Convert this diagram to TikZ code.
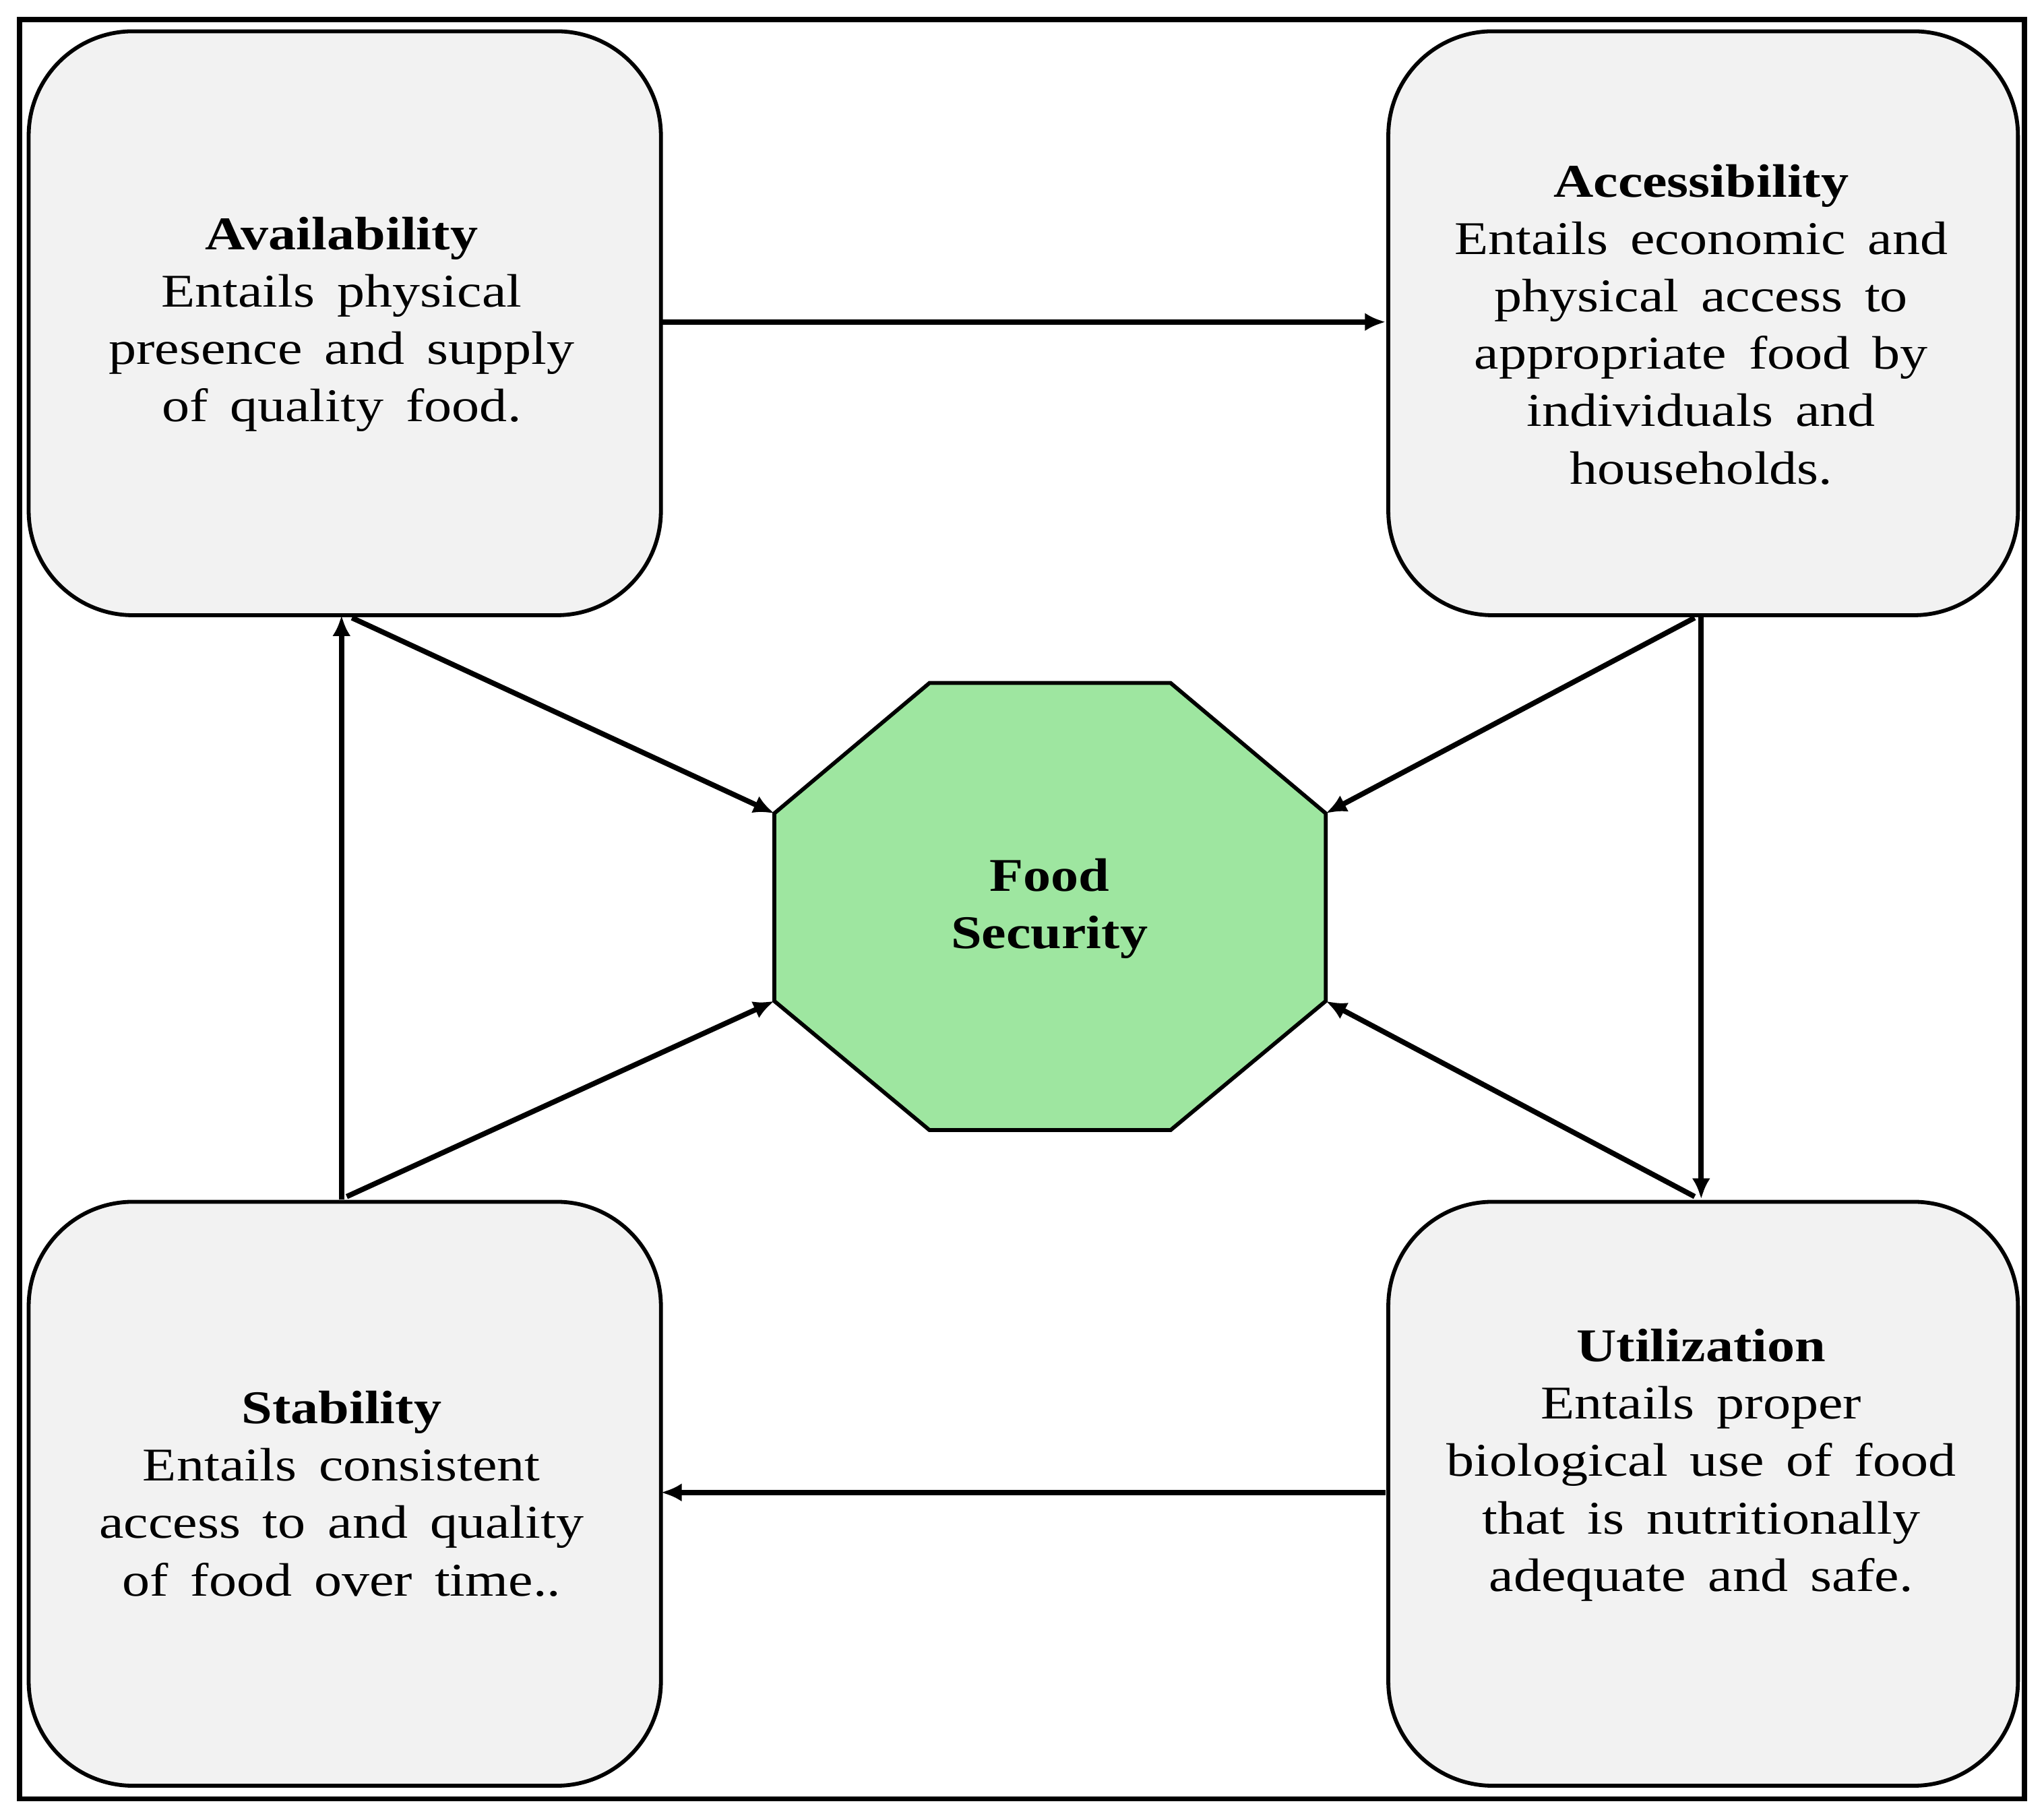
\documentclass[tikz,border=0pt]{standalone}
\usepackage{fontspec}
\setmainfont{Liberation Serif}[FakeStretch=1.18,WordSpace=1.6]
\usetikzlibrary{arrows.meta}
\definecolor{boxfill}{HTML}{F2F2F2}
\definecolor{octfill}{HTML}{9EE6A0}
\begin{document}
\begin{tikzpicture}[x=0.5pt,y=-0.5pt,
  card/.style={draw,line width=1.5pt,fill=boxfill,rounded corners=40pt},
  txt/.style={align=center,font=\fontsize{18}{22}\selectfont,inner sep=0pt},
  arr/.style={line width=2pt,-{Latex[length=8pt,width=7pt]}}]
\useasboundingbox (0,0) rectangle (1568,1390);
\draw[line width=2pt] (15,15) rectangle (1553,1380);
\draw[card] (22,24) rectangle (507,472);
\draw[card] (1065,24) rectangle (1548,472);
\draw[card] (22,922) rectangle (507,1370);
\draw[card] (1065,922) rectangle (1548,1370);
\draw[line width=1.5pt,fill=octfill] (713,524) -- (898,524) -- (1017,624) -- (1017,768) -- (898,867) -- (713,867) -- (594,768) -- (594,624) -- cycle;
\node[txt] (av) at (262,249) {\textbf{Availability}\\Entails physical\\presence and supply\\of quality food.};
\node[txt] (ac) at (1305,249) {\textbf{Accessibility}\\Entails economic and\\physical access to\\appropriate food by\\individuals and\\households.};
\node[txt] (st) at (262,1146) {\textbf{Stability}\\Entails consistent\\access to and quality\\of food over time..};
\node[txt] (ut) at (1305,1124) {\textbf{Utilization}\\Entails proper\\biological use of food\\that is nutritionally\\adequate and safe.};
\node[txt] (fs) at (805,697) {\textbf{Food}\\\textbf{Security}};
\coordinate (avR) at (507,247); \coordinate (acL) at (1063,247);
\coordinate (utL) at (1063,1145); \coordinate (stR) at (507,1145);
\coordinate (stT) at (262,920); \coordinate (avB) at (262,472);
\coordinate (acB) at (1305,472); \coordinate (utT) at (1305,920);
\coordinate (o1) at (594,624); \coordinate (o2) at (1017,624);
\coordinate (o3) at (594,768); \coordinate (o4) at (1017,768);
\coordinate (avD) at (270,474); \coordinate (acD) at (1300,474);
\coordinate (stD) at (266,918); \coordinate (utD) at (1300,918);
\draw[arr] (avR) -- (acL);
\draw[arr] (utL) -- (stR);
\draw[arr] (stT) -- (avB);
\draw[arr] (acB) -- (utT);
\draw[arr] (avD) -- (o1);
\draw[arr] (acD) -- (o2);
\draw[arr] (stD) -- (o3);
\draw[arr] (utD) -- (o4);
\end{tikzpicture}
\end{document}
